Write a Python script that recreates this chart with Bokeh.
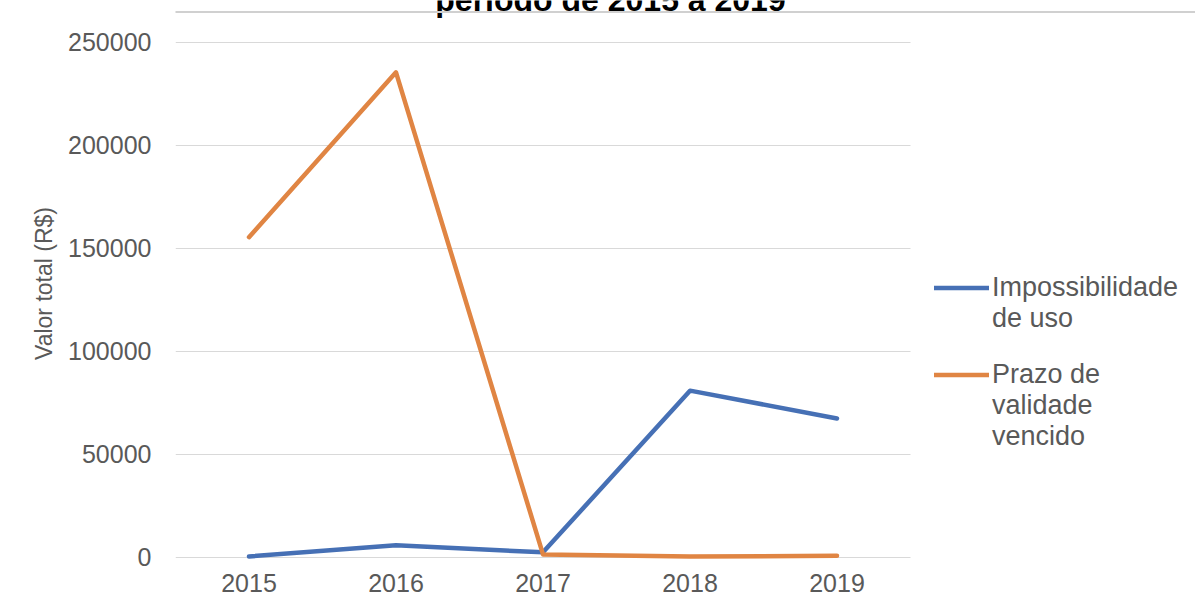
from bokeh.plotting import figure
from bokeh.models import (Range1d, FixedTicker, Legend, LegendItem,
                          Label, Arrow, ColumnDataSource, NumeralTickFormatter)
from bokeh.embed import file_html
from bokeh.resources import INLINE

# ---- data ----
years = [2015, 2016, 2017, 2018, 2019]
impossibilidade = [500, 6000, 2500, 81000, 67500]
prazo_vencido = [155500, 235500, 1500, 500, 800]
y_ticks = [0, 50000, 100000, 150000, 200000, 250000]
series_names = ["Impossibilidade\nde uso", "Prazo de\nvalidade\nvencido"]
title_text = "período de 2015 a 2019"
y_label = "Valor total (R$)"

BLUE = "#4670B5"
ORANGE = "#E08543"
GRAY_TXT = "#595959"
FONT = "Liberation Sans"

src = ColumnDataSource(dict(year=years, imp=impossibilidade, prazo=prazo_vencido))

x_lo = years[0] - 0.5
x_hi = years[-1] + 0.5

p = figure(width=1195, height=608,
           x_range=Range1d(x_lo, x_lo + 1020 / 147.0),
           y_range=Range1d(-4369, 270388),
           output_backend="svg", toolbar_location=None,
           min_border_left=175, min_border_right=0,
           min_border_top=0, min_border_bottom=42)
p.outline_line_color = None
p.background_fill_color = "white"
p.border_fill_color = "white"

# horizontal gridlines only across the category area
p.xgrid.grid_line_color = None
p.ygrid.grid_line_color = None
p.segment(x0=[x_lo] * len(y_ticks), x1=[x_hi] * len(y_ticks), y0=y_ticks, y1=y_ticks,
          line_color="#d9d9d9", line_width=1)

r1 = p.line(x="year", y="imp", source=src, line_color=BLUE, line_width=4.5,
            line_cap="round", line_join="round")
r2 = p.line(x="year", y="prazo", source=src, line_color=ORANGE, line_width=4.5,
            line_cap="round", line_join="round")

# axes
p.yaxis.ticker = FixedTicker(ticks=y_ticks)
p.yaxis.formatter = NumeralTickFormatter(format="0")
p.yaxis.axis_line_color = None
p.yaxis.major_tick_line_color = None
p.yaxis.minor_tick_line_color = None
p.yaxis.major_label_standoff = 18
p.yaxis.major_label_text_font = FONT
p.yaxis.major_label_text_font_size = "25px"
p.yaxis.major_label_text_color = GRAY_TXT
p.yaxis.axis_label = y_label
p.yaxis.axis_label_text_font = FONT
p.yaxis.axis_label_text_font_size = "23px"
p.yaxis.axis_label_text_font_style = "normal"
p.yaxis.axis_label_text_color = GRAY_TXT
p.yaxis.axis_label_standoff = 8

p.xaxis.ticker = FixedTicker(ticks=years)
p.xaxis.axis_line_color = None
p.xaxis.major_tick_line_color = None
p.xaxis.minor_tick_line_color = None
p.xaxis.major_label_standoff = 1
p.xaxis.major_label_text_font = FONT
p.xaxis.major_label_text_font_size = "25px"
p.xaxis.major_label_text_color = GRAY_TXT


def make_legend(label, renderer, y_off):
    # leading blank lines keep the swatch level with the first line of its label
    n_lines = label.count("\n") + 1
    lead = "\n" * (n_lines - 1)
    return Legend(items=[LegendItem(label=lead + label, renderers=[renderer])],
                  location=(759, y_off), orientation="vertical",
                  glyph_width=55, glyph_height=31, label_standoff=3,
                  spacing=0, margin=0, padding=10,
                  label_text_font=FONT, label_text_font_size="27px",
                  label_text_color=GRAY_TXT,
                  border_line_color=None, background_fill_alpha=0)


p.add_layout(make_legend(series_names[0], r1, 232))
p.add_layout(make_legend(series_names[1], r2, 114))

# title (partially cropped at top, as in the reference)
p.add_layout(Label(x=610, y=-1, x_units="canvas", y_units="canvas", text=title_text,
                   text_align="center", text_baseline="alphabetic",
                   text_font=FONT, text_font_style="bold", text_font_size="32px",
                   text_color="black"))

# chart-area top border
p.add_layout(Arrow(end=None, start=None, x_start=0, y_start=11.5, x_end=1195, y_end=11.5,
                   start_units="canvas", end_units="canvas",
                   line_color="#d0d0d0", line_width=2))

open("out.html", "w").write(file_html(p, INLINE))
